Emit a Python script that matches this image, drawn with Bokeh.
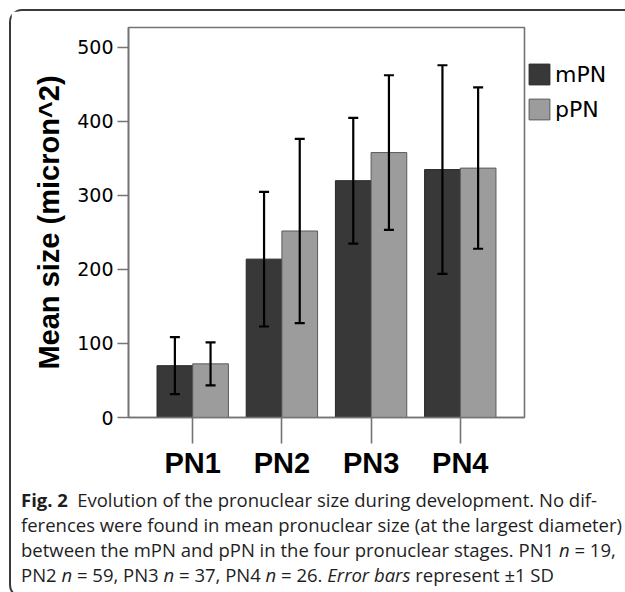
from bokeh.plotting import figure
from bokeh.models import (ColumnDataSource, FactorRange, Range1d, FixedTicker, Whisker,
                          TeeHead, Legend, LegendItem, Div)
from bokeh.layouts import column, row
from bokeh.transform import dodge
from bokeh.embed import file_html
from bokeh.resources import INLINE

# ---- data ----
stages = ["PN1", "PN2", "PN3", "PN4"]
mpn_mean = [70, 214, 320, 335]
ppn_mean = [72.5, 252, 358, 337]
mpn_sd = [38.5, 91, 85, 141]
ppn_sd = [29, 124.5, 104.5, 109]
y_ticks = [0, 100, 200, 300, 400, 500]
series_names = ["mPN", "pPN"]
series_colors = ["#383838", "#9c9c9c"]
series_lines = ["#262626", "#5a5a5a"]

src = ColumnDataSource(dict(
    stage=stages,
    mpn=mpn_mean,
    ppn=ppn_mean,
    mpn_lo=[m - s for m, s in zip(mpn_mean, mpn_sd)],
    mpn_hi=[m + s for m, s in zip(mpn_mean, mpn_sd)],
    ppn_lo=[m - s for m, s in zip(ppn_mean, ppn_sd)],
    ppn_hi=[m + s for m, s in zip(ppn_mean, ppn_sd)],
))

H = 471
TOP, BOTTOM = 16, 65
FRAME_H = H - TOP - BOTTOM
W_MAIN = 117 + 396 + 2
W_LEG = 98
W = W_MAIN + W_LEG

xr = FactorRange(factors=stages, range_padding=0.22, range_padding_units="absolute")
p = figure(x_range=xr, y_range=Range1d(0, 527), width=W_MAIN, height=H,
           output_backend="svg", toolbar_location=None,
           min_border_left=117, min_border_top=TOP, min_border_right=2,
           min_border_bottom=BOTTOM)

axis_gray = "#747474"
p.outline_line_color = axis_gray
p.outline_line_width = 1.6
p.xgrid.grid_line_color = None
p.ygrid.grid_line_color = None
p.background_fill_color = "white"
p.border_fill_color = "white"

p.vbar(x=dodge("stage", -0.2, range=p.x_range), top="mpn", width=0.4, bottom=0,
       source=src, fill_color=series_colors[0], line_color=series_lines[0], line_width=1)
p.vbar(x=dodge("stage", 0.2, range=p.x_range), top="ppn", width=0.4, bottom=0,
       source=src, fill_color=series_colors[1], line_color=series_lines[1], line_width=1)

for off, lo, hi in [(-0.2, "mpn_lo", "mpn_hi"), (0.2, "ppn_lo", "ppn_hi")]:
    w = Whisker(base=dodge("stage", off, range=p.x_range), lower=lo, upper=hi, source=src,
                line_color="black", line_width=2.2, level="overlay",
                upper_head=TeeHead(size=10, line_width=2.2, line_color="black"),
                lower_head=TeeHead(size=10, line_width=2.2, line_color="black"))
    p.add_layout(w)

# y axis
ya = p.yaxis[0]
ya.ticker = FixedTicker(ticks=y_ticks)
ya.major_tick_out = 11
ya.major_tick_in = 0
ya.minor_tick_out = 0
ya.minor_tick_in = 0
ya.axis_line_color = axis_gray
ya.axis_line_width = 1.6
ya.major_tick_line_color = axis_gray
ya.major_tick_line_width = 1.6
ya.major_label_text_font = "DejaVu Sans"
ya.major_label_text_font_size = "19px"
ya.major_label_text_color = "black"
ya.major_label_standoff = 4
ya.axis_label = "Mean size (micron^2)"
ya.axis_label_text_font = "Liberation Sans"
ya.axis_label_text_font_style = "bold"
ya.axis_label_text_font_size = "29px"
ya.axis_label_text_color = "black"
ya.axis_label_standoff = 9

# x axis
xa = p.xaxis[0]
xa.major_tick_out = 26
xa.major_tick_in = 0
xa.axis_line_color = axis_gray
xa.axis_line_width = 1.6
xa.major_tick_line_color = axis_gray
xa.major_tick_line_width = 1.6
xa.major_label_text_font = "Liberation Sans"
xa.major_label_text_font_style = "bold"
xa.major_label_text_font_size = "29px"
xa.major_label_text_color = "black"
xa.major_label_standoff = 3

# legend panel (separate small plot to the right of the frame); hidden proxy renderers
lf = figure(width=W_LEG, height=H, output_backend="svg", toolbar_location=None,
            x_range=Range1d(0, 1), y_range=Range1d(0, 1),
            min_border_left=0, min_border_right=0, min_border_top=TOP, min_border_bottom=BOTTOM)
lf.axis.visible = False
lf.grid.visible = False
lf.outline_line_color = None
lf.background_fill_color = "white"
lf.border_fill_color = "white"
proxy = ColumnDataSource(dict(x=[0.5], top=[0.5]))
l1 = lf.vbar(x="x", top="top", width=0.1, source=proxy, visible=False,
             fill_color=series_colors[0], line_color=series_lines[0], line_width=1)
l2 = lf.vbar(x="x", top="top", width=0.1, source=proxy, visible=False,
             fill_color=series_colors[1], line_color=series_lines[1], line_width=1)
legend = Legend(items=[LegendItem(label=series_names[0], renderers=[l1]),
                       LegendItem(label=series_names[1], renderers=[l2])],
                location=(0, FRAME_H - 34 - 61), orientation="vertical",
                glyph_width=26, glyph_height=26, spacing=9, padding=0, margin=0,
                label_standoff=3, label_text_font="DejaVu Sans", label_text_font_size="22px",
                label_text_color="black", border_line_color=None, background_fill_alpha=0,
                inactive_fill_alpha=0)
lf.add_layout(legend, "center")

caption_html = (
    "<b>Fig.&nbsp;2</b>&ensp;Evolution of the pronuclear size during development. No dif-<br>"
    "ferences were found in mean pronuclear size (at the largest diameter)<br>"
    "between the mPN and pPN in the four pronuclear stages. PN1 <i>n</i>&nbsp;=&nbsp;19,<br>"
    "PN2 <i>n</i>&nbsp;=&nbsp;59, PN3 <i>n</i>&nbsp;=&nbsp;37, PN4 <i>n</i>&nbsp;=&nbsp;26. "
    "<i>Error bars</i> represent &plusmn;1 SD"
)
cap = Div(text=caption_html, width=W, height=104,
          styles={"font-family": "Open Sans", "font-size": "18.5px", "line-height": "25px",
                  "color": "#1e1e1e", "white-space": "nowrap", "padding-left": "5px",
                  "box-sizing": "border-box"})

layout = column(row(p, lf, spacing=0), cap, spacing=0, margin=(9, 0, 0, 9),
                styles={"border-left": "2px solid #3a3a3a", "border-top": "2px solid #3a3a3a",
                        "border-bottom": "2px solid #3a3a3a", "border-top-left-radius": "13px",
                        "border-bottom-left-radius": "13px", "background": "white"})

open("out.html", "w").write(file_html(layout, INLINE))
